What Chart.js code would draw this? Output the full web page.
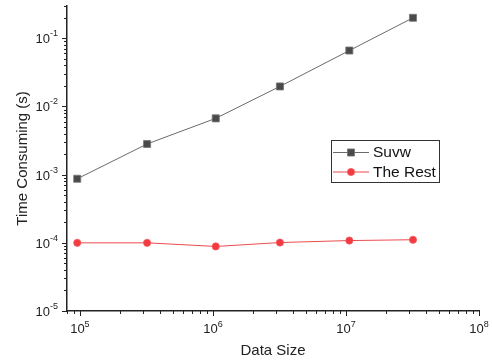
<!DOCTYPE html>
<html>
<head>
<meta charset="utf-8">
<script src="https://cdn.jsdelivr.net/npm/chart.js@4.4.1/dist/chart.umd.min.js"></script>
<style>
  html, body { margin: 0; padding: 0; background: #fff; }
  #wrap { width: 492px; height: 364px; }
</style>
</head>
<body>
<div id="wrap"><canvas id="chart" width="492" height="364"></canvas></div>
<script>
// data
const dataSizes = [95500, 320000, 1050000, 3190000, 10600000, 31900000];
const suvwTimes = [0.00087, 0.00282, 0.0067, 0.0197, 0.0662, 0.2];
const restTimes = [0.0001, 0.0001, 0.0000885, 0.000101, 0.000108, 0.000111];

// axis ticks (base 10, labels are the exponents)
const xTickValues = [1e5, 1e6, 1e7, 1e8];
const xTickExps = ["5", "6", "7", "8"];
const yTickValues = [1e-5, 1e-4, 1e-3, 1e-2, 1e-1];
const yTickExps = ["-5", "-4", "-3", "-2", "-1"];

const seriesNames = ["Suvw", "The Rest"];

const FONT = "'Liberation Sans', Arial, sans-serif";
const AXIS_COLOR = "#222";

function toPoints(xs, ys) {
  return xs.map((x, i) => ({ x: x, y: ys[i] }));
}

// draws tick marks, superscript tick labels, axis titles and the boxed legend
const originStyle = {
  id: "originStyle",
  afterDraw(chart) {
    const ctx = chart.ctx;
    const xs = chart.scales.x;
    const ys = chart.scales.y;
    const area = chart.chartArea;

    ctx.save();
    ctx.strokeStyle = AXIS_COLOR;
    ctx.lineWidth = 1;

    // minor + major tick marks
    function eachLogTick(scale, fn) {
      const lo = Math.floor(Math.log10(scale.min));
      const hi = Math.ceil(Math.log10(scale.max));
      for (let e = lo; e <= hi; e++) {
        for (let k = 1; k <= 9; k++) {
          const v = k * Math.pow(10, e);
          if (v < scale.min * 0.999 || v > scale.max * 1.001) continue;
          fn(scale.getPixelForValue(v), k === 1);
        }
      }
    }
    eachLogTick(xs, (px, major) => {
      ctx.beginPath();
      ctx.moveTo(Math.round(px) + 0.5, area.bottom);
      ctx.lineTo(Math.round(px) + 0.5, area.bottom + (major ? 5 : 3));
      ctx.stroke();
    });
    eachLogTick(ys, (py, major) => {
      ctx.beginPath();
      ctx.moveTo(area.left, Math.round(py) + 0.5);
      ctx.lineTo(area.left - (major ? 5 : 3), Math.round(py) + 0.5);
      ctx.stroke();
    });

    // tick labels: "10" with superscript exponent
    ctx.fillStyle = AXIS_COLOR;
    ctx.textBaseline = "alphabetic";
    const baseFont = "13px " + FONT;
    const supFont = "9px " + FONT;
    xTickValues.forEach((v, i) => {
      const px = xs.getPixelForValue(v);
      ctx.font = baseFont;
      const w1 = ctx.measureText("10").width;
      ctx.font = supFont;
      const w2 = ctx.measureText(xTickExps[i]).width;
      const x0 = px - (w1 + w2) / 2;
      ctx.font = baseFont;
      ctx.textAlign = "left";
      ctx.fillText("10", x0, area.bottom + 22);
      ctx.font = supFont;
      ctx.fillText(xTickExps[i], x0 + w1, area.bottom + 16);
    });
    yTickValues.forEach((v, i) => {
      const py = ys.getPixelForValue(v);
      ctx.font = supFont;
      const w2 = ctx.measureText(yTickExps[i]).width;
      const xr = area.left - 9;
      ctx.textAlign = "left";
      ctx.fillText(yTickExps[i], xr - w2, py - 2);
      ctx.font = baseFont;
      ctx.textAlign = "right";
      ctx.fillText("10", xr - w2, py + 5);
    });

    // axis titles
    ctx.font = "15px " + FONT;
    ctx.textAlign = "center";
    ctx.textBaseline = "middle";
    ctx.fillText("Data Size", (area.left + area.right) / 2, 351);
    ctx.save();
    ctx.translate(23, (area.top + area.bottom) / 2);
    ctx.rotate(-Math.PI / 2);
    ctx.fillText("Time Consuming (s)", 0, 0);
    ctx.restore();

    // legend box
    const lx = 331, ly = 140, lw = 108, lh = 42;
    ctx.strokeStyle = "#333";
    ctx.lineWidth = 1;
    ctx.strokeRect(lx + 0.5, ly + 0.5, lw, lh);
    chart.data.datasets.forEach((ds, i) => {
      const y = ly + 12.5 + i * 19.5;
      ctx.strokeStyle = ds.borderColor;
      ctx.lineWidth = 1;
      ctx.beginPath();
      ctx.moveTo(lx + 2, y);
      ctx.lineTo(lx + 38, y);
      ctx.stroke();
      ctx.fillStyle = ds.pointBackgroundColor;
      ctx.strokeStyle = ds.pointBorderColor;
      ctx.lineWidth = ds.pointBorderWidth;
      ctx.beginPath();
      if (ds.pointStyle === "rect") {
        const s = ds.pointRadius * Math.SQRT1_2;
        ctx.rect(lx + 20 - s, y - s, 2 * s, 2 * s);
      } else {
        ctx.arc(lx + 20, y, ds.pointRadius, 0, Math.PI * 2);
      }
      ctx.fill();
      ctx.stroke();
      ctx.fillStyle = "#111";
      ctx.font = "15.5px " + FONT;
      ctx.textAlign = "left";
      ctx.textBaseline = "middle";
      ctx.fillText(ds.label, lx + 42, y + 0.5);
    });

    ctx.restore();
  }
};

new Chart(document.getElementById("chart"), {
  type: "line",
  data: {
    datasets: [
      {
        label: seriesNames[0],
        data: toPoints(dataSizes, suvwTimes),
        borderColor: "#6a6a6a",
        borderWidth: 1,
        pointStyle: "rect",
        pointRadius: 5,
        pointBackgroundColor: "#4a4a4a",
        pointBorderColor: "#777",
        pointBorderWidth: 0.8,
        tension: 0
      },
      {
        label: seriesNames[1],
        data: toPoints(dataSizes, restTimes),
        borderColor: "#ec4b4e",
        borderWidth: 1,
        pointStyle: "circle",
        pointRadius: 3.6,
        pointBackgroundColor: "#f13b40",
        pointBorderColor: "#f45c5f",
        pointBorderWidth: 0.8,
        tension: 0
      }
    ]
  },
  options: {
    responsive: false,
    animation: false,
    layout: { padding: { left: 67, right: 13, top: 4, bottom: 53 } },
    plugins: {
      legend: { display: false },
      tooltip: { enabled: false }
    },
    scales: {
      x: {
        type: "logarithmic",
        min: 80000,
        max: 1e8,
        grid: { display: false, drawTicks: false, tickLength: 0 },
        border: { display: true, color: AXIS_COLOR, width: 1.5 },
        ticks: { display: false }
      },
      y: {
        type: "logarithmic",
        min: 1e-5,
        max: 0.3,
        grid: { display: false, drawTicks: false, tickLength: 0 },
        border: { display: true, color: AXIS_COLOR, width: 1.5 },
        ticks: { display: false }
      }
    }
  },
  plugins: [originStyle]
});
</script>
</body>
</html>
